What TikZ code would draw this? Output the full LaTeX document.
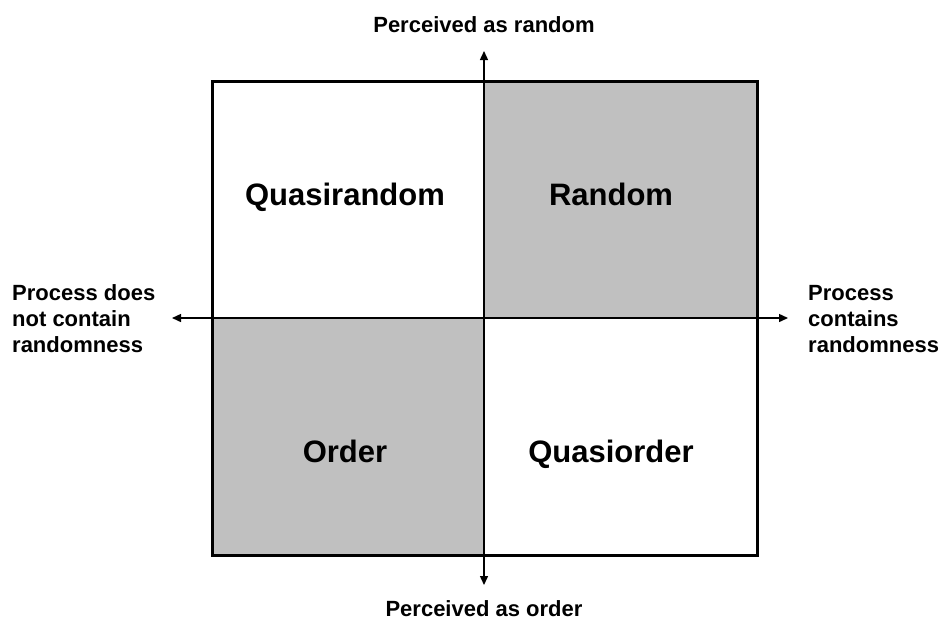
\documentclass[tikz,border=0pt]{standalone}
\usepackage{fontspec}
\setmainfont{Liberation Sans}
\usetikzlibrary{arrows.meta}
\definecolor{quadgray}{HTML}{C0C0C0}
\tikzset{
  axislabel/.style={font=\bfseries\fontsize{22}{26}\selectfont, inner sep=0pt},
  quadlabel/.style={font=\bfseries\fontsize{31}{36}\selectfont, inner sep=0pt, anchor=base},
  axisline/.style={line width=1.4pt, -{Triangle[length=9pt,width=8pt]}},
  frame/.style={line width=3pt},
  shade/.style={fill=quadgray}
}
\begin{document}
\begin{tikzpicture}[x=1pt,y=-1pt]
\useasboundingbox (0,0) rectangle (942,619);
% quadrant fills
\fill[shade] (484,81) rectangle (757,318);
\fill[shade] (212,318) rectangle (484,555);
% axes
\coordinate (c) at (484,318);
\coordinate (top) at (484,51);
\coordinate (bot) at (484,585);
\coordinate (lft) at (172,318);
\coordinate (rgt) at (788,318);
\draw[axisline] (c |- 555,555) -- (top);
\draw[axisline] (c |- 81,81) -- (bot);
\draw[axisline] (757,318) -- (lft);
\draw[axisline] (212,318) -- (rgt);
% frame
\draw[frame] (212,81) rectangle (757,555);
% quadrant labels
\node[quadlabel] (qr) at (345,205) {Quasirandom};
\node[quadlabel] (rd) at (611,205) {Random};
\node[quadlabel] (od) at (345,462) {Order};
\node[quadlabel] (qo) at (611,462) {Quasiorder};
% axis labels
\node[axislabel, anchor=base] (pr) at (484,32) {Perceived as random};
\node[axislabel, anchor=base] (po) at (484,616) {Perceived as order};
\node[axislabel, anchor=west, align=left] (pn) at (12,319) {Process does\\not contain\\randomness};
\node[axislabel, anchor=west, align=left] (pc) at (808,319) {Process\\contains\\randomness};
\end{tikzpicture}
\end{document}
